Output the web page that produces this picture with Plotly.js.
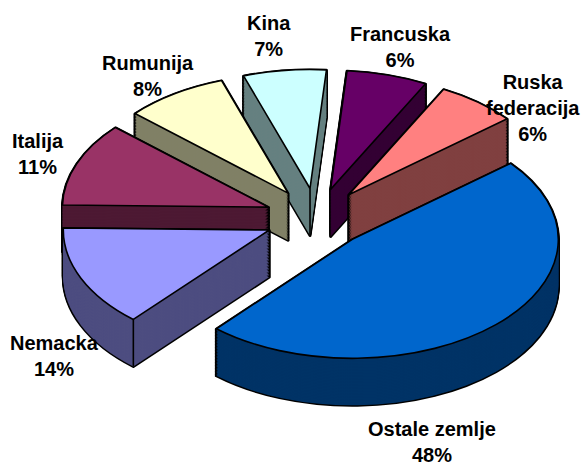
<!DOCTYPE html>
<html><head><meta charset="utf-8">
<script src="https://cdn.plot.ly/plotly-3.0.1.min.js"></script>
<style>html,body{margin:0;padding:0;background:#fff;overflow:hidden}
.pielayer path{vector-effect:non-scaling-stroke}</style></head>
<body><div id="chart" style="width:581px;height:465px"></div>
<script>
const categories=["Ostale zemlje","Nemacka","Italija","Rumunija","Kina","Francuska","Ruska federacija"];
const values=[47.5,13.8,11.4,8.1,6.5,6.35,6.35];
const labelTexts=["Ostale zemlje<br>48%","Nemacka<br>14%","Italija<br>11%","Rumunija<br>8%","Kina<br>7%","Francuska<br>6%","Ruska<br>federacija<br>6%"];
const topColors=["#0066CC","#9999FF","#993366","#FFFFCC","#CCFFFF","#660066","#FF8080"];
const sideColors=["#003366","#4D4D80","#4D1933","#808066","#668080","#330033","#804040"];
// style / layout settings
const labelX=[432,54,38,148,269,400,533];
const labelY=[442,356,154,76,36,47,108];
const paintOrder=[4,5,6,3,2,1,0];
const W=581,H=465,PULL=0.25,ROT=50.3,DOM=0.8;
const DEPTH=47,STEP=1.5,TILT=119,RX=206,CX=316.4,CY=218;
const r=(H*DOM)/(2*(1+PULL));
const sx=RX/r,sy=TILT/r;
const clear="rgba(0,0,0,0)";
const traces=[];
function layer(i,offsetPx,fill,lineColor,lineWidth){
  const d=offsetPx/sy/H;
  traces.push({type:"pie",labels:categories,values:values,sort:false,direction:"clockwise",rotation:ROT,pull:PULL,
    textinfo:"none",hoverinfo:"skip",showlegend:false,
    domain:{x:[0,1],y:[0.13-d,0.93-d]},
    marker:{colors:values.map((_,j)=>j===i?fill:clear),
            line:{color:values.map((_,j)=>j===i?lineColor:clear),width:values.map((_,j)=>j===i?lineWidth:0)}}});
}
paintOrder.forEach(i=>{
  for(let o=DEPTH;o>=0;o-=STEP) layer(i,o,"#000","#000",3);
  for(let o=DEPTH;o>=0;o-=STEP) layer(i,o,sideColors[i],clear,0);
  layer(i,0,topColors[i],"#000",1.6);
});
// interior vertical edges of the extruded slices, derived from the slice angles
const total=values.reduce((a,b)=>a+b,0);
function sliceAngles(i){
  const before=values.slice(0,i).reduce((a,b)=>a+b,0);
  return [ROT+before/total*360,ROT+(before+values[i])/total*360];
}
function apex(i){
  const [a,b]=sliceAngles(i),m=(a+b)/2*Math.PI/180;
  return [CX+Math.sin(m)*PULL*RX,CY-Math.cos(m)*PULL*TILT];
}
function vertical(px,py){
  return {type:"line",xref:"paper",yref:"paper",layer:"above",x0:px/W,x1:px/W,y0:1-py/H,y1:1-(py+DEPTH)/H,line:{color:"#000",width:1.6}};
}
const nemA=apex(1),nemStart=sliceAngles(1)[0]*Math.PI/180;
const kinaA=apex(4);
const shapes=[
  vertical(nemA[0]+Math.sin(nemStart)*RX,nemA[1]-Math.cos(nemStart)*TILT),
  vertical(kinaA[0],kinaA[1])
];
const annotations=labelTexts.map((t,i)=>({text:t,x:labelX[i]/W,y:1-labelY[i]/H,xref:"paper",yref:"paper",showarrow:false,
  xanchor:"center",yanchor:"middle",align:"center",font:{family:"Liberation Sans, Arial, sans-serif",size:20,color:"#000",weight:700}}));
Plotly.newPlot("chart",traces,{width:W,height:H,margin:{l:0,r:0,t:0,b:0},paper_bgcolor:"#fff",showlegend:false,annotations,shapes},{staticPlot:true,displayModeBar:false}).then(gd=>{
  const cy0=H*(1-0.53);
  const tf=`translate(${CX-sx*W/2},${CY-sy*cy0}) scale(${sx},${sy})`;
  gd.querySelector(".pielayer").setAttribute("transform",tf);
});
</script></body></html>
